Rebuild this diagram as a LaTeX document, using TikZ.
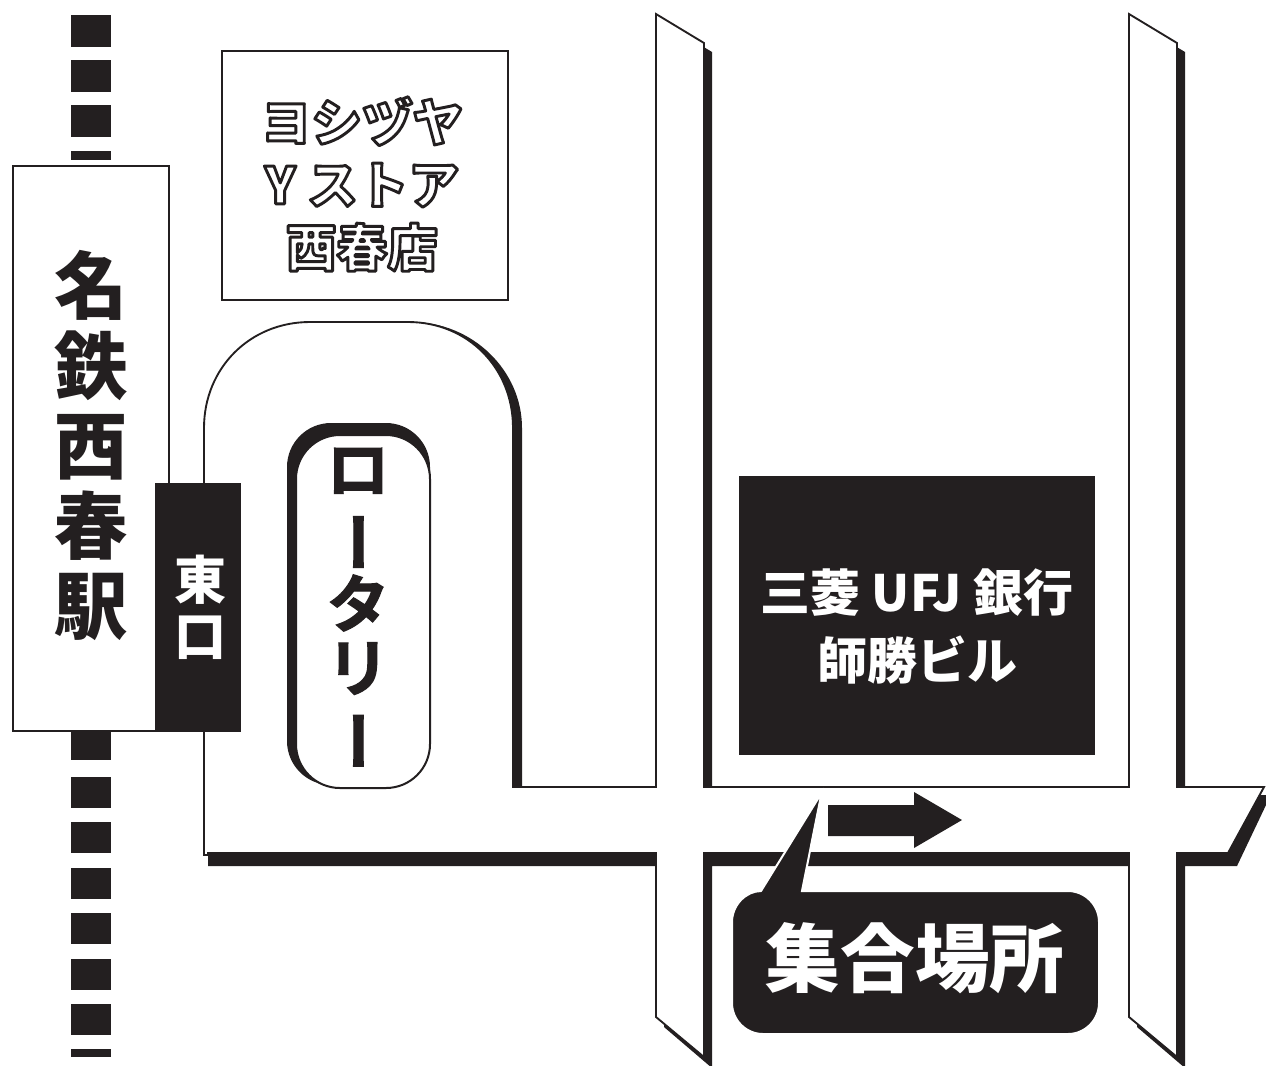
\documentclass[tikz,border=0pt]{standalone}
\usepackage{fontspec}
\setmainfont{Noto Sans CJK JP}[BoldFont={Noto Sans CJK JP Bold}]
\newfontfamily\jpblack{Noto Sans CJK JP Black}
\definecolor{ink}{HTML}{231F20}
\newcommand{\vbar}{\kern0.32em\rotatebox[origin=c]{90}{ー}}
\newcommand{\outl}[1]{\special{pdf:code 2 Tr 2.2 w 1 j 0.137 0.122 0.125 RG}#1\special{pdf:code 0 Tr 0.4 w 0 j}}
\tikzset{
  road/.style={fill=white,draw=ink,line width=1.4pt,line join=miter},
  thin box/.style={fill=white,draw=ink,line width=1.5pt},
  lbl/.style={inner sep=0pt,outer sep=0pt,align=center,text=ink},
  wlbl/.style={inner sep=0pt,outer sep=0pt,align=center,text=white}
}
\begin{document}
\begin{tikzpicture}[x=0.75pt,y=-0.75pt]
\useasboundingbox (0,0) rectangle (1266,1065);
% railway
\foreach \a/\b in {15/47,60/92,105/137,151/160,731/760,777/808,822/853,868/899,913/944,959/990,1004/1035,1049/1057}
  \fill[ink] (71,\a) rectangle (111,\b);
% road shadow
\fill[ink] (208,866) -- (664,866) -- (664,1027) -- (712,1068) -- (712,866) -- (1137,866) -- (1137,1027) -- (1185,1068) -- (1185,866) -- (1237,866) -- (1266,805) -- (1266,795) -- (1185,795) -- (1185,52) -- (1137,23) -- (1137,795) -- (712,795) -- (712,52) -- (664,23) -- (664,795) -- (522,795) -- (522,428)
  .. controls (522,370) and (472,322) .. (412,322) -- (300,325) -- (300,500) -- (208,500) -- cycle;
% road
\draw[road] (204,855) -- (208,855) -- (208,853) -- (656,853) -- (656,1017) -- (704,1057) -- (704,853) -- (1129,853) -- (1129,1017) -- (1177,1057) -- (1177,853) -- (1228,853) -- (1264,787) -- (1177,787) -- (1177,43) -- (1129,14) -- (1129,787) -- (704,787) -- (704,43) -- (656,14) -- (656,787) -- (513,787) -- (513,428)
  .. controls (513,368) and (468,322) .. (408,322) -- (310,322) .. controls (250,322) and (204,368) .. (204,428) -- cycle;
% station
\node[thin box,outer sep=0pt,minimum width={156*0.75pt},minimum height={565*0.75pt},anchor=north west,inner sep=0pt] (station) at (13,166) {};
\node[lbl,font=\jpblack\fontsize{55}{60}\selectfont] (stationname) at (91,445) {名\\鉄\\西\\春\\駅};
\node[fill=ink,outer sep=0pt,minimum width={86*0.75pt},minimum height={249*0.75pt},anchor=north west,inner sep=0pt] (east) at (155,483) {};
\node[wlbl,font=\jpblack\fontsize{39}{42}\selectfont] (eastname) at (200,607) {東\\口};
% shop
\node[thin box,outer sep=0pt,minimum width={286*0.75pt},minimum height={249*0.75pt},anchor=north west,inner sep=0pt] (shop) at (222,51) {};
\node[wlbl,font=\jpblack\fontsize{38}{47}\selectfont] (shopname) at (362,184) {\outl{ヨシヅヤ}\\\outl{Y ストア}\\\outl{西春店}};
% rotary
\fill[ink,rounded corners=33pt] (287,423) rectangle (430,785);
\draw[thin box,rounded corners=33pt] (296,435) rectangle (430,788);
\node[lbl,font=\bfseries\fontsize{47}{48}\selectfont] (rotary) at (358,610) {\special{pdf:code 2 Tr 0.9 w 0.137 0.122 0.125 RG}ロ\\\vbar\\タ\\リ\\\vbar\special{pdf:code 0 Tr 0.4 w}};
% bank
\node[fill=ink,outer sep=0pt,minimum width={356*0.75pt},minimum height={279*0.75pt},anchor=north west,inner sep=0pt] (bank) at (739,476) {};
\node[wlbl,font=\jpblack\fontsize{37.5}{51}\selectfont] (bankname) at (917,626) {三菱 UFJ 銀行\\師勝ビル};
% arrow
\fill[ink] (828,805) -- (914,805) -- (914,792) -- (962,820) -- (914,848) -- (914,836) -- (828,836) -- cycle;
% callout
\draw[fill=ink,draw=white,line width=1.5pt,miter limit=30,line join=miter] (761,891) -- (821.5,793) -- (802,891) -- (1068,891) .. controls (1085,891) and (1099,905) .. (1099,922) -- (1099,1003) .. controls (1099,1020) and (1085,1034) .. (1068,1034) -- (763,1034) .. controls (746,1034) and (732,1020) .. (732,1003) -- (732,922) .. controls (732,905) and (746,891) .. (761,891) -- cycle;
\node[wlbl,font=\jpblack\fontsize{56}{60}\selectfont] (meet) at (915,958) {集合場所};
\end{tikzpicture}
\end{document}
